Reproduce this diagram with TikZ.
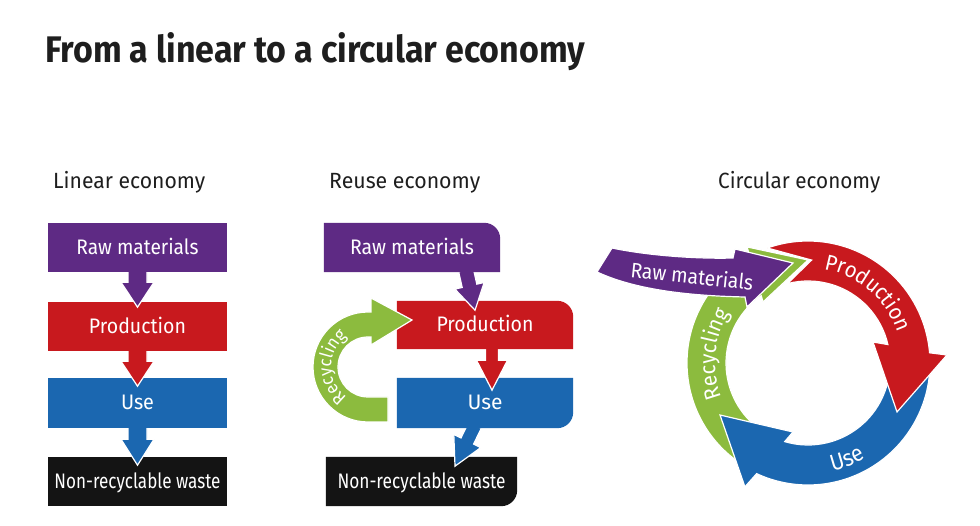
\documentclass[tikz,border=0pt]{standalone}
\usepackage{fontspec}
\setmainfont{Fira Sans}
\newfontfamily\ringfont[FakeStretch=0.93]{Fira Sans}
\usetikzlibrary{calc,decorations.text}
\pgfdeclarelayer{bg}
\pgfsetlayers{bg,main}
\definecolor{cpurple}{HTML}{5E2A84}
\definecolor{cred}{HTML}{C8191E}
\definecolor{cblue}{HTML}{1B67B0}
\definecolor{cgreen}{HTML}{8CBB3E}
\definecolor{cblack}{HTML}{141414}
\definecolor{ctext}{HTML}{1E1E1E}
\newcommand\fitw[2]{\resizebox{#1}{\height}{#2}}
\newcommand\ringtxt{\ringfont\fontsize{22}{22}\selectfont}
\newcommand\ringsmall{\ringfont\fontsize{18}{18}\selectfont}
% start, angle, length, stem half width, head half width, head length, colour
\newcommand\barrow[7]{\begin{scope}[shift={(#1)},rotate=#2]
\fill[#7,draw=white,line width=1.2pt,miter limit=4] (0,-#4) -- ({#3-#6},-#4) -- ({#3-#6},-#5) -- (#3,0) -- ({#3-#6},#5) -- ({#3-#6},#4) -- (0,#4) -- cycle;
\end{scope}}
\begin{document}
\begin{tikzpicture}[x=1pt,y=1pt,
  boxtxt/.style={text=white,font=\fontsize{21}{21}\selectfont,inner sep=0pt,text height=16pt,text depth=2pt},
  lbox/.style={boxtxt,minimum width=179pt,minimum height=49pt},
  rbox/.style={boxtxt,minimum width=176pt,minimum height=49pt},
  subt/.style={anchor=base west,inner sep=0pt,text=ctext,font=\fontsize{22}{22}\selectfont},
  outl/.style={draw=white,line width=1.2pt,miter limit=4},
  ringlabel/.style={decorate,decoration={text along path,text align=center,text color=white,text={#1}}}]
\useasboundingbox (0,0) rectangle (980,-526);
\begin{pgfonlayer}{bg}
\fill[white] (0,0) rectangle (980,-526);
\end{pgfonlayer}

% titles
\node[anchor=base west,inner sep=0pt,text=ctext,font=\fontsize{37}{37}\selectfont\bfseries] (title) at (45,-63) {\fitw{540pt}{From a linear to a circular economy}};
\node[subt] (tlin) at (53,-188.5) {\fitw{152pt}{Linear economy}};
\node[subt] (treu) at (329,-188.5) {\fitw{151pt}{Reuse economy}};
\node[subt] (tcir) at (718,-188.5) {\fitw{162pt}{Circular economy}};

% ---------- linear economy ----------
\node[lbox] (lraw) at (137.5,-247.5) {\fitw{122pt}{Raw materials}};
\node[lbox] (lprod) at (137.5,-326.5) {\fitw{97pt}{Production}};
\node[lbox,minimum height=50pt] (luse) at (137.5,-403) {\fitw{33pt}{Use}};
\node[lbox] (lwaste) at (137.5,-481.5) {\fitw{166pt}{Non-recyclable waste}};
\begin{pgfonlayer}{bg}
\fill[cblack] (lwaste.south west) rectangle (lwaste.north east);
\barrow{$(luse.south)+(0,2)$}{-90}{39}{9.5}{16.5}{26}{cblue}
\fill[cblue] (luse.south west) rectangle (luse.north east);
\barrow{$(lprod.south)+(0,2)$}{-90}{37}{9.5}{16.5}{25}{cred}
\fill[cred] (lprod.south west) rectangle (lprod.north east);
\barrow{$(lraw.south)+(0,2)$}{-90}{37}{9.5}{16.5}{25}{cpurple}
\fill[cpurple] (lraw.south west) rectangle (lraw.north east);
\end{pgfonlayer}

% ---------- reuse economy ----------
\node[rbox] (rraw) at (412,-247.5) {\fitw{124pt}{Raw materials}};
\node[rbox,minimum height=48pt] (rprod) at (485,-325) {\fitw{97pt}{Production}};
\node[rbox,minimum height=50pt] (ruse) at (485,-403) {\fitw{35pt}{Use}};
\node[rbox,minimum width=191pt] (rwaste) at (421.5,-481.5) {\fitw{168pt}{Non-recyclable waste}};
\coordinate (rc) at (368,-367);
\begin{pgfonlayer}{bg}
\fill[cblack] (rwaste.south west) -- (rwaste.north west) -- (rwaste.north east) -- ([yshift=16pt]rwaste.south east) arc[start angle=0,end angle=-90,radius=16] -- cycle;
\barrow{$(ruse.south)+(-10,3)$}{-116}{45.6}{7}{15}{28}{cblue}
\fill[cblue] (ruse.south west) -- (ruse.north west) -- (ruse.north east) -- ([yshift=16pt]ruse.south east) arc[start angle=0,end angle=-90,radius=16] -- cycle;
\barrow{$(rprod.south)+(7,2)$}{-90}{43}{6.5}{15.5}{30}{cred}
\fill[cred] (rprod.south west) -- (rprod.north west) -- ([xshift=-16pt]rprod.north east) arc[start angle=90,end angle=0,radius=16] -- (rprod.south east) -- cycle;
\fill[cgreen,outl] ($(rc)+(20,-55)$) -- ($(rc)+(0,-55)$) arc[start angle=270,end angle=90,radius=55] -- ($(rc)+(3,55)$) -- ($(rc)+(3,69)$) -- ($(rc)+(44,47)$) -- ($(rc)+(3,22)$) -- ($(rc)+(3,30)$) -- ($(rc)+(0,30)$) arc[start angle=90,end angle=270,radius=30] -- ($(rc)+(20,-30)$) -- cycle;
\barrow{$(rraw.south)+(54,2)$}{-77.3}{41}{7.5}{15}{25}{cpurple}
\fill[cpurple] (rraw.south west) -- (rraw.north west) -- ([xshift=-16pt]rraw.north east) arc[start angle=90,end angle=0,radius=16] -- (rraw.south east) -- cycle;
\end{pgfonlayer}
\path[ringlabel={|\ringsmall|Recycling}] ($(rc)+(250:37)$) arc[start angle=250,end angle=110,radius=37];

% ---------- circular economy ----------
\coordinate (cc) at (808,-363);
\begin{scope}[shift={(cc)}]
\fill[cgreen,outl] (238:82) -- (238:121) arc[start angle=238,end angle=118.7,radius=121] -- (117.7:131.1) -- (90:103) -- (126.4:75.8) -- (124.8:82) arc[start angle=124.8,end angle=238,radius=82] -- cycle;
\fill[cblue,outl] (0:82) -- (0:122) arc[start angle=0,end angle=-114.9,radius=122] -- (-117:139) -- (-149.4:102.2) -- (-102.3:70.6) -- (-106.5:82) arc[start angle=-106.5,end angle=0,radius=82] -- cycle;
\fill[cred,outl] (109.5:122) arc[start angle=109.5,end angle=4.8,radius=122] -- (3.3:139.2) -- (-28.8:101.6) -- (17.9:68.3) -- (13:82) arc[start angle=13,end angle=104.5,radius=82] -- (88:103) -- cycle;
\path[ringlabel={|\ringtxt|Production}] (86:95) arc[start angle=86,end angle=13,radius=95];
\path[ringlabel={|\ringtxt|Recycling}] (206:93) arc[start angle=206,end angle=143,radius=93];
\path[ringlabel={|\ringfont\fontsize{23}{23}\selectfont|Use}] (268:111) arc[start angle=268,end angle=316,radius=111];
\end{scope}
\fill[cpurple,outl] (612,-248) .. controls (650,-256) and (700,-259) .. (733,-258) -- (735,-249) -- (793,-263) -- (747,-307) -- (745,-297) .. controls (700,-296) and (640,-292) .. (597,-272) -- cycle;
\node[rotate=-6,text=white,inner sep=0pt,font=\fontsize{21}{21}\selectfont] (craw) at (692,-276) {\fitw{123pt}{Raw materials}};
\end{tikzpicture}
\end{document}
